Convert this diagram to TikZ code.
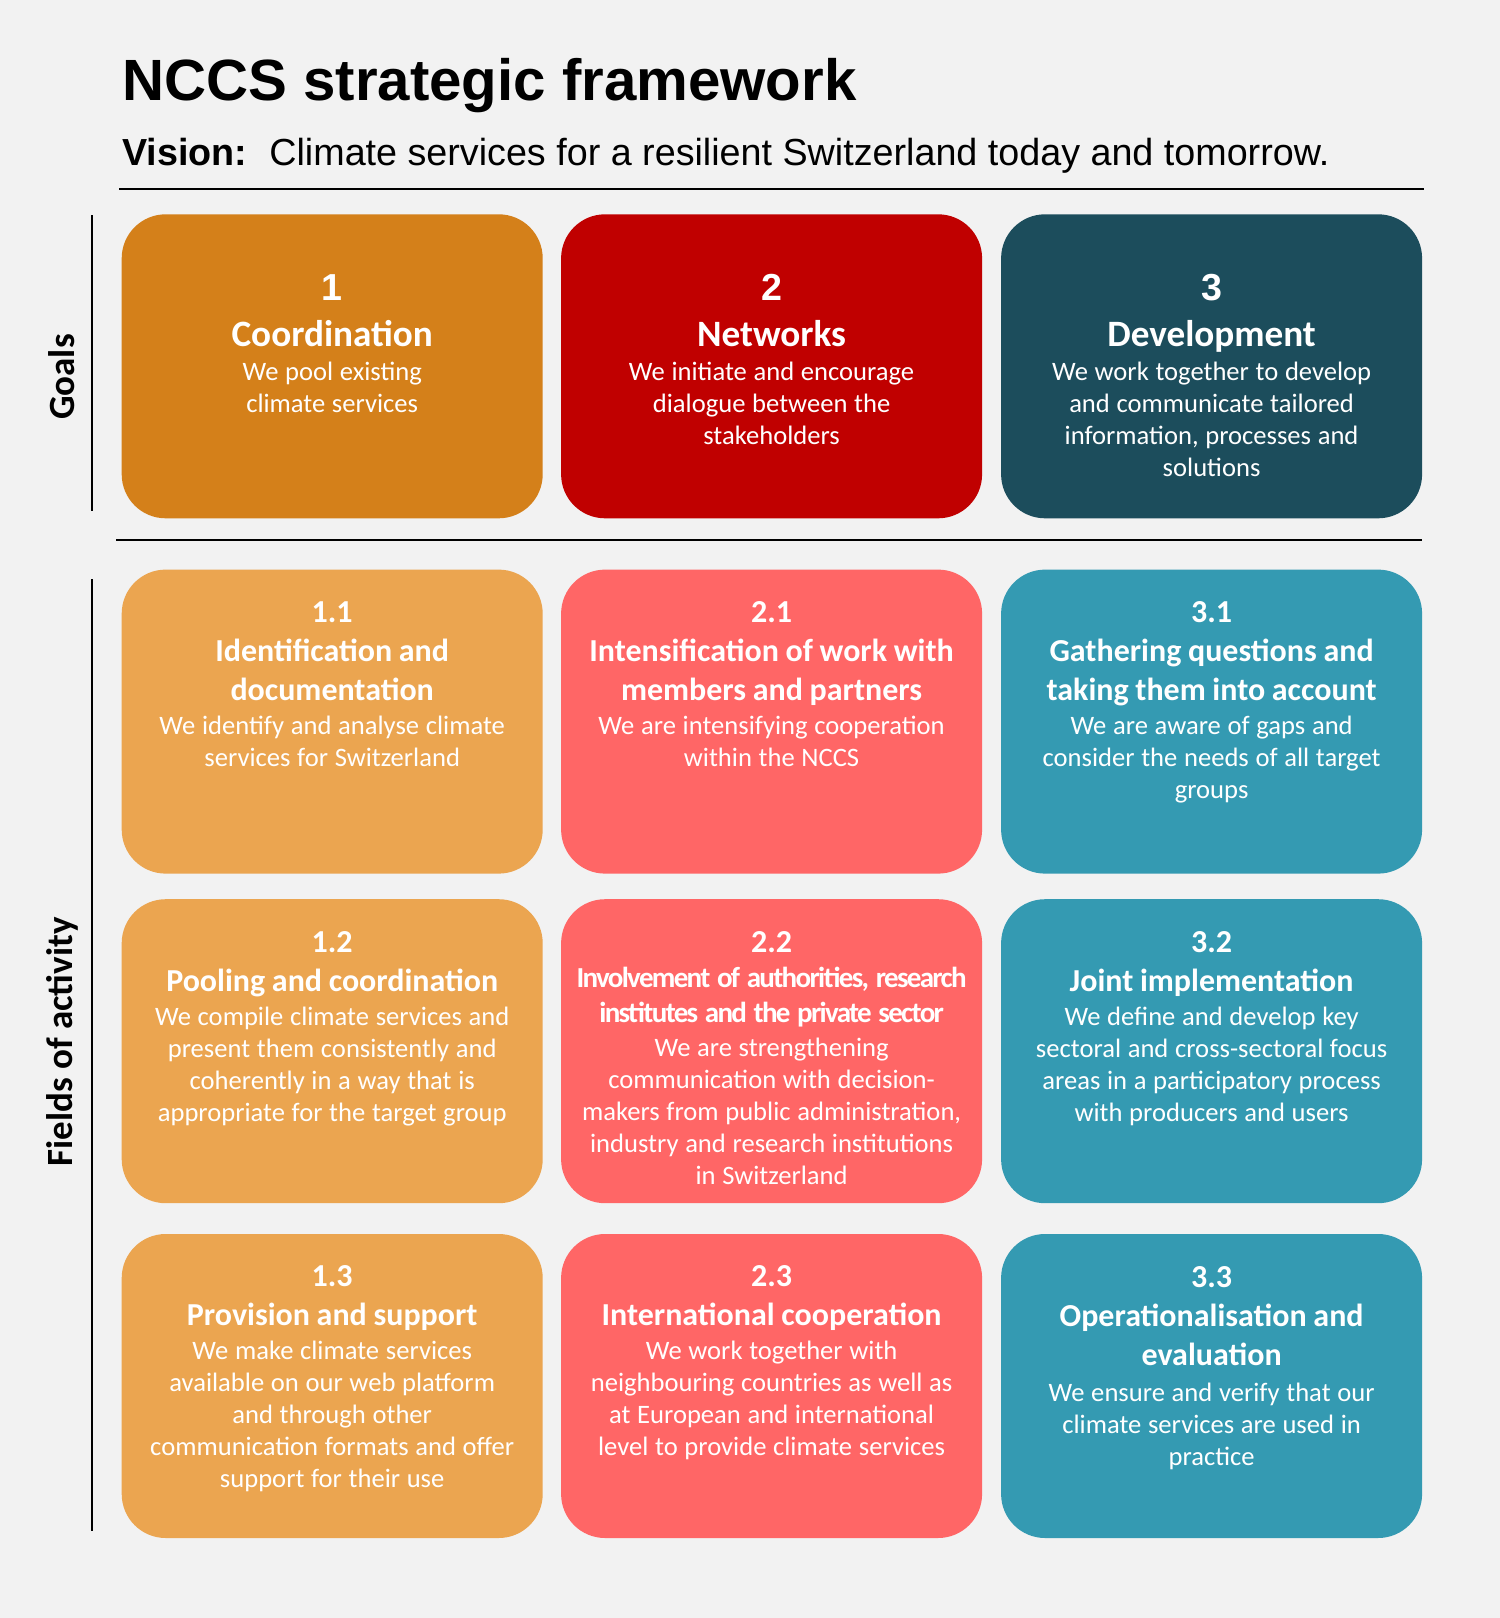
\documentclass[tikz,border=0pt]{standalone}
\usepackage{fontspec}
\setmainfont{Carlito}
\newfontfamily\arialf{Liberation Sans}
\definecolor{bgc}{HTML}{F2F2F2}
\definecolor{gA}{HTML}{D4801A}
\definecolor{gB}{HTML}{C00000}
\definecolor{gC}{HTML}{1C4D5C}
\definecolor{fA}{HTML}{EBA550}
\definecolor{fB}{HTML}{FF6666}
\definecolor{fC}{HTML}{349AB2}
\newcommand\numf{\bfseries\fontsize{16pt}{19.5pt}\selectfont}
\newcommand\headf{\bfseries\fontsize{16pt}{19.5pt}\selectfont}
\newcommand\condf{\bfseries\fontsize{14.5pt}{17.5pt}\selectfont\addfontfeature{LetterSpace=-5.8}}
\newcommand\bodyf{\fontsize{13.3pt}{16pt}\selectfont}
\newcommand\gnumf{\arialf\bfseries\fontsize{18.8pt}{22pt}\selectfont}
\newcommand\gheadf{\bfseries\fontsize{18.6pt}{22.8pt}\selectfont}
\begin{document}
\begin{tikzpicture}[x=0.5pt,y=-0.5pt,
  card/.style={rectangle, rounded corners=22pt, minimum width=210.5pt, minimum height=152pt, inner sep=0pt, draw=none},
  txt/.style={text=white, text width=205pt, align=center, inner sep=0pt, anchor=base},
  side/.style={rotate=90, inner sep=0pt, font=\bfseries\fontsize{18.5pt}{22pt}\selectfont},
  rule/.style={line width=1.2pt, black}]
\fill[bgc] (0,0) rectangle (1500,1618);
\useasboundingbox (0,0) rectangle (1500,1618);

% title
\node[anchor=base west, inner sep=0pt, font=\arialf\bfseries\fontsize{29.1pt}{34pt}\selectfont] (title) at (122,100) {NCCS strategic framework};
\node[anchor=base west, inner sep=0pt, font=\arialf\fontsize{18.85pt}{22pt}\selectfont] (vision) at (122,165) {\textbf{Vision:}\hspace{11pt}Climate services for a resilient Switzerland today and tomorrow.};
\draw[rule] (119,189) -- (1424,189);
\draw[line width=1pt] (116,540) -- (1422,540);
\draw[line width=1.2pt] (92,215) -- (92,511);
\draw[line width=1.2pt] (92,579) -- (92,1531);
\node[side] (lgoals) at (62,377) {Goals};
\node[side] (lfields) at (62,1042) {Fields of activity};

% goals
\node[card, fill=gA] (g1) at (332.2,366.3) {};
\node[card, fill=gB] (g2) at (771.6,366.3) {};
\node[card, fill=gC] (g3) at (1211.6,366.3) {};
\node[txt] (g1t) at (332.2,300.6) {{\gnumf 1\par}{\gheadf Coordination\par}\vspace{1pt}{\bodyf We pool existing\\climate services\par}};
\node[txt] (g2t) at (771.6,300.6) {{\gnumf 2\par}{\gheadf Networks\par}\vspace{1pt}{\bodyf We initiate and encourage\\dialogue between the\\stakeholders\par}};
\node[txt] (g3t) at (1211.6,300.6) {{\gnumf 3\par}{\gheadf Development\par}\vspace{1pt}{\bodyf We work together to develop\\and communicate tailored\\information, processes and\\solutions\par}};

% row 1
\node[card, fill=fA] (f11) at (332.2,721.6) {};
\node[card, fill=fB] (f21) at (771.6,721.6) {};
\node[card, fill=fC] (f31) at (1211.6,721.6) {};
\node[txt] (f11t) at (332.2,622.4) {{\numf 1.1\par}{\headf Identification and\\documentation\par}\vspace{1pt}{\bodyf We identify and analyse climate\\services for Switzerland\par}};
\node[txt] (f21t) at (771.6,622.4) {{\numf 2.1\par}{\headf Intensification of work with\\members and partners\par}\vspace{1pt}{\bodyf We are intensifying cooperation\\within the NCCS\par}};
\node[txt] (f31t) at (1211.6,622.4) {{\numf 3.1\par}{\headf Gathering questions and\\taking them into account\par}\vspace{1pt}{\bodyf We are aware of gaps and\\consider the needs of all target\\groups\par}};

% row 2
\node[card, fill=fA] (f12) at (332.2,1051.2) {};
\node[card, fill=fB] (f22) at (771.6,1051.2) {};
\node[card, fill=fC] (f32) at (1211.6,1051.2) {};
\node[txt] (f12t) at (332.2,952.6) {{\numf 1.2\par}{\headf Pooling and coordination\par}\vspace{1pt}{\bodyf We compile climate services and\\present them consistently and\\coherently in a way that is\\appropriate for the target group\par}};
\node[txt] (f22t) at (771.6,952.6) {{\numf 2.2\par}{\condf Involvement of authorities, research\\institutes and the private sector\par}\vspace{1pt}{\bodyf We are strengthening\\communication with decision-\\makers from public administration,\\industry and research institutions\\in Switzerland\par}};
\node[txt] (f32t) at (1211.6,952.6) {{\numf 3.2\par}{\headf Joint implementation\par}\vspace{1pt}{\bodyf We define and develop key\\sectoral and cross-sectoral focus\\areas in a participatory process\\with producers and users\par}};

% row 3
\node[card, fill=fA] (f13) at (332.2,1386) {};
\node[card, fill=fB] (f23) at (771.6,1386) {};
\node[card, fill=fC] (f33) at (1211.6,1386) {};
\node[txt] (f13t) at (332.2,1286.8) {{\numf 1.3\par}{\headf Provision and support\par}\vspace{1pt}{\bodyf We make climate services\\available on our web platform\\and through other\\communication formats and offer\\support for their use\par}};
\node[txt] (f23t) at (771.6,1286.8) {{\numf 2.3\par}{\headf International cooperation\par}\vspace{1pt}{\bodyf We work together with\\neighbouring countries as well as\\at European and international\\level to provide climate services\par}};
\node[txt] (f33t) at (1211.6,1287.8) {{\numf 3.3\par}{\headf Operationalisation and\\evaluation\par}\vspace{2pt}{\bodyf We ensure and verify that our\\climate services are used in\\practice\par}};
\end{tikzpicture}
\end{document}
